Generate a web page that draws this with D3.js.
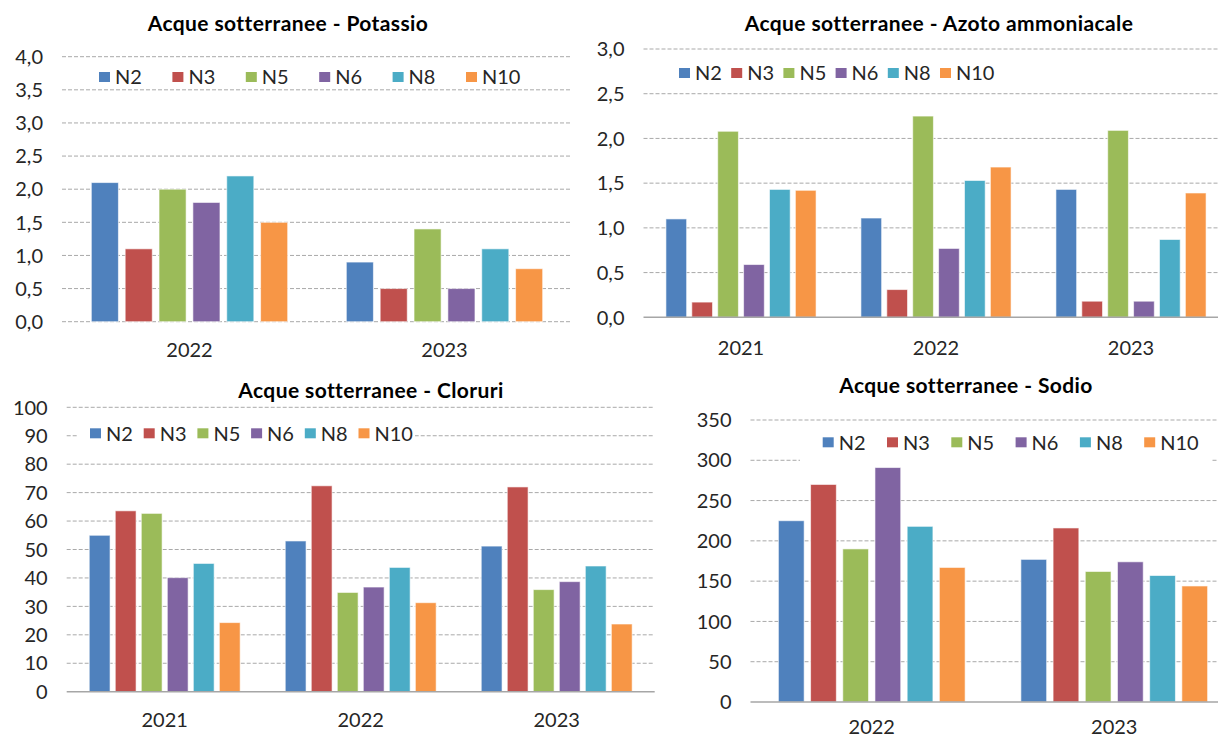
<!DOCTYPE html>
<html lang="it">
<head>
<meta charset="utf-8"/>
<title>Acque sotterranee</title>
<script src="https://d3js.org/d3.v7.min.js"></script>
<style>
  body { margin: 0; background: #fff; }
  svg { display: block; font-family: Lato, "Open Sans", sans-serif; }
  .grid line { stroke: #a9a9a9; stroke-width: 1; stroke-dasharray: 4,2; }
  .tick-label { font-size: 20px; fill: #262626; }
  .title { font-size: 21px; font-weight: bold; fill: #000; letter-spacing: 0.4px; }
  .legend text { font-size: 20px; fill: #262626; }
</style>
</head>
<body>
<svg id="chart" width="1218" height="738"></svg>
<script>
// series (stations) shared by all four charts
var series = ["N2", "N3", "N5", "N6", "N8", "N10"];
var colors = ["#4f81bd", "#c0504d", "#9bbb59", "#8064a2", "#4bacc6", "#f79646"];

// Potassio
var potassioYears = ["2022", "2023"];
var potassioValues = [
  [2.1, 1.1, 2.0, 1.8, 2.2, 1.5],
  [0.9, 0.5, 1.4, 0.5, 1.1, 0.8]
];

// Azoto ammoniacale
var azotoYears = ["2021", "2022", "2023"];
var azotoValues = [
  [1.10, 0.17, 2.08, 0.59, 1.43, 1.42],
  [1.11, 0.31, 2.25, 0.77, 1.53, 1.68],
  [1.43, 0.18, 2.09, 0.18, 0.87, 1.39]
];

// Cloruri
var cloruriYears = ["2021", "2022", "2023"];
var cloruriValues = [
  [55.0, 63.6, 62.7, 40.1, 45.1, 24.3],
  [53.0, 72.4, 34.9, 36.8, 43.7, 31.3],
  [51.2, 72.0, 35.9, 38.7, 44.2, 23.8]
];

// Sodio
var sodioYears = ["2022", "2023"];
var sodioValues = [
  [225, 270, 190, 291, 218, 167],
  [177, 216, 162, 174, 157, 144]
];

var it = d3.formatLocale({decimal: ",", thousands: ".", grouping: [3], currency: ["€", ""]});

var svg = d3.select("#chart");

// layout of each panel (positions in page pixels)
var charts = [
  {title: "Acque sotterranee - Potassio", years: potassioYears, values: potassioValues,
   x0: 62, x1: 572, yTop: 56.7, yBottom: 321.7, yMax: 4, ticks: 8, fmt: it.format(".1f"),
   titleX: 288, titleY: 23, legX: 99, legStep: 73.4, legY: 77, legBox: null,
   dashedZero: true, xLabelDy: 28},
  {title: "Acque sotterranee - Azoto ammoniacale", years: azotoYears, values: azotoValues,
   x0: 643.5, x1: 1228.5, yTop: 49, yBottom: 317.3, yMax: 3, ticks: 6, fmt: it.format(".1f"),
   titleX: 939, titleY: 23, legX: 679, legStep: 52.2, legY: 73, legBox: null,
   dashedZero: false, xLabelDy: 30},
  {title: "Acque sotterranee - Cloruri", years: cloruriYears, values: cloruriValues,
   x0: 66.7, x1: 654.7, yTop: 407.3, yBottom: 691.7, yMax: 100, ticks: 10, fmt: it.format("d"),
   titleX: 371, titleY: 390, legX: 90, legStep: 53.7, legY: 433.3, legBox: [77, 415, 421, 447],
   dashedZero: false, xLabelDy: 28},
  {title: "Acque sotterranee - Sodio", years: sodioYears, values: sodioValues,
   x0: 750.5, x1: 1235.5, yTop: 420, yBottom: 702, yMax: 350, ticks: 7, fmt: it.format("d"),
   titleX: 966, titleY: 385, legX: 822.7, legStep: 64.3, legY: 442.3, legBox: [800, 1211, 426, 463],
   dashedZero: false, xLabelDy: 25}
];

charts.forEach(function(c) {
  var g = svg.append("g");

  var x = d3.scaleBand()
    .domain(c.years)
    .range([c.x0, c.x1])
    .paddingInner(0.23)
    .paddingOuter(0.115);

  var xs = d3.scaleBand()
    .domain(series)
    .range([0, x.bandwidth()])
    .paddingInner(0.2);

  var y = d3.scaleLinear()
    .domain([0, c.yMax])
    .range([c.yBottom, c.yTop]);

  var ticks = y.ticks(c.ticks);

  // gridlines
  g.append("g")
    .attr("class", "grid")
    .selectAll("line")
    .data(ticks.filter(function(t) { return t > 0 || c.dashedZero; }))
    .enter().append("line")
      .attr("x1", c.x0)
      .attr("x2", c.x1)
      .attr("y1", function(d) { return y(d); })
      .attr("y2", function(d) { return y(d); });

  // tick labels
  g.append("g")
    .selectAll("text")
    .data(ticks)
    .enter().append("text")
      .attr("class", "tick-label")
      .attr("x", c.x0 - 19)
      .attr("y", function(d) { return y(d); })
      .attr("dy", "0.36em")
      .attr("text-anchor", "end")
      .text(function(d) { return c.fmt(d); });

  // legend box hides gridlines behind it
  if (c.legBox) {
    g.append("rect")
      .attr("x", c.legBox[0])
      .attr("y", c.legBox[2])
      .attr("width", c.legBox[1] - c.legBox[0])
      .attr("height", c.legBox[3] - c.legBox[2])
      .attr("fill", "#fff");
  }

  // bars
  g.append("g")
    .selectAll("g")
    .data(c.values)
    .enter().append("g")
      .attr("transform", function(d, i) { return "translate(" + x(c.years[i]) + ",0)"; })
    .selectAll("rect")
    .data(function(d) { return d; })
    .enter().append("rect")
      .attr("x", function(d, i) { return xs(series[i]); })
      .attr("y", function(d) { return y(d); })
      .attr("width", xs.bandwidth())
      .attr("height", function(d) { return y(0) - y(d); })
      .attr("fill", function(d, i) { return colors[i]; })
      .attr("stroke", "rgba(255,255,255,0.6)")
      .attr("stroke-width", 1);

  if (!c.dashedZero) {
    g.append("line")
      .attr("x1", c.x0)
      .attr("x2", c.x1)
      .attr("y1", y(0))
      .attr("y2", y(0))
      .attr("stroke", "#a6a6a6")
      .attr("stroke-width", 1.5);
  }

  // category labels
  g.append("g")
    .selectAll("text")
    .data(c.years)
    .enter().append("text")
      .attr("class", "tick-label")
      .attr("x", function(d) { return x(d) + x.bandwidth() / 2; })
      .attr("y", c.yBottom + c.xLabelDy)
      .attr("dy", "0.36em")
      .attr("text-anchor", "middle")
      .text(function(d) { return d; });

  // title
  g.append("text")
    .attr("class", "title")
    .attr("x", c.titleX)
    .attr("y", c.titleY)
    .attr("dy", "0.36em")
    .attr("text-anchor", "middle")
    .text(c.title);

  // legend
  var legend = g.append("g")
    .attr("class", "legend")
    .selectAll("g")
    .data(series)
    .enter().append("g")
      .attr("transform", function(d, i) { return "translate(" + (c.legX + i * c.legStep) + "," + c.legY + ")"; });

  legend.append("rect")
    .attr("x", 0)
    .attr("y", -5)
    .attr("width", 11)
    .attr("height", 10)
    .attr("fill", function(d, i) { return colors[i]; });

  legend.append("text")
    .attr("x", 16)
    .attr("dy", "0.36em")
    .text(function(d) { return d; });
});
</script>
</body>
</html>
